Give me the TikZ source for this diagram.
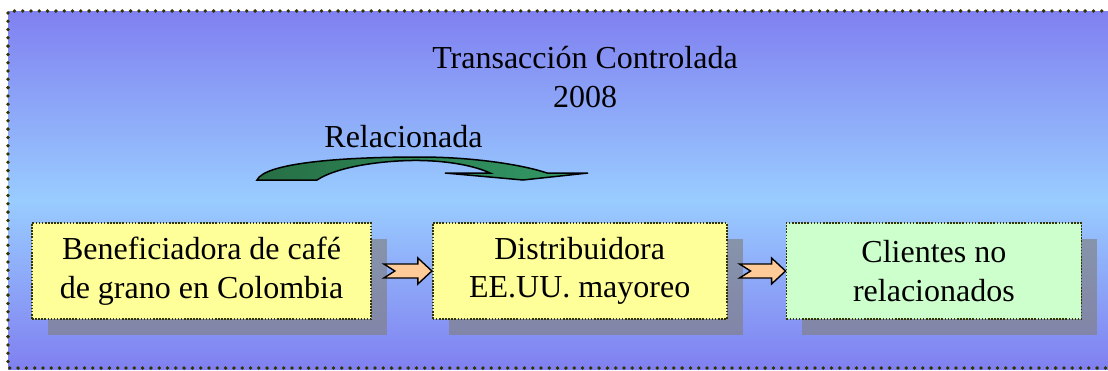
\documentclass[tikz,border=0pt]{standalone}
\usepackage{fontspec}
\setmainfont{Liberation Serif}
\usetikzlibrary{positioning, calc, shadows}
\definecolor{fondoA}{HTML}{8080F0}
\definecolor{fondoB}{HTML}{99CCFF}
\definecolor{oliva}{HTML}{333300}
\definecolor{amarillo}{HTML}{FFFF99}
\definecolor{verdeclaro}{HTML}{CCFFCC}
\definecolor{naranja}{HTML}{FFCC99}
\definecolor{verdeA}{HTML}{276F45}
\definecolor{verdeB}{HTML}{339966}
\tikzstyle{texto} = [font=\fontsize{32}{38.4}\selectfont, align=center]
\tikzstyle{caja} = [rectangle, draw=oliva, line width=1.7pt, dash pattern=on 1.6pt off 1.5pt, texto, minimum height=96pt, fill=amarillo, drop shadow={shadow xshift=16pt, shadow yshift=-16pt, fill=gray, opacity=0.65}]
\tikzstyle{borde} = [oliva, line width=3.8pt, line cap=round, dash pattern=on 0pt off 8.3pt]
\tikzstyle{flecha} = [draw=black, line width=1.4pt, line join=miter, fill=naranja]
\tikzstyle{curva} = [draw=black, line width=1.5pt, left color=verdeA, right color=verdeB]
\newcommand{\flechabloque}[2]{%
	\draw[flecha] ($(#1.east)+(12,-7)$) -- ($(#2.west)+(-14,-7)$) -- ($(#2.west)+(-14,-13)$) -- (#2.west)
		-- ($(#2.west)+(-14,13)$) -- ($(#2.west)+(-14,7)$) -- ($(#1.east)+(12,7)$) -- ($(#1.east)+(23,0)$) -- cycle;}

\begin{document}
\begin{tikzpicture}[x=1pt, y=-1pt]
	\useasboundingbox (0,0) rectangle (1108,370);

	% Background
	\shade[top color=fondoA, bottom color=fondoB] (8,11) rectangle (1110,200);
	\shade[top color=fondoB, bottom color=fondoA] (8,200) rectangle (1110,369);
	\draw[borde] (1110,11) -- (8,11) -- (8,368) -- (1110,368);

	% Titles
	\node (titulo) [texto] at (585,77) {Transacción Controlada\\2008};
	\node (relac) [texto, anchor=base] at (403.5,147) {Relacionada};

	% Curved arrow
	\draw[curva] (257,180) -- (317,180)
		.. controls (340,165) and (390,160) .. (420,160.5)
		.. controls (450,161) and (475,166) .. (490,173)
		-- (445,173) -- (523,180) -- (588,173) -- (547,173)
		.. controls (520,164) and (470,157) .. (420,157)
		.. controls (340,157) and (265,163) .. cycle;

	% Boxes
	\node (benef) [caja, minimum width=339pt] at (201.5,271) {Beneficiadora de café\\de grano en Colombia};
	\node (distrib) [caja, minimum width=294pt, right=60pt of benef] {Distribuidora\\EE.UU. mayoreo};
	\node (clientes) [caja, minimum width=295pt, right=58pt of distrib, fill=verdeclaro] {Clientes no\\relacionados};

	% Arrows
	\flechabloque{benef}{distrib}
	\flechabloque{distrib}{clientes}

\end{tikzpicture}
\end{document}
